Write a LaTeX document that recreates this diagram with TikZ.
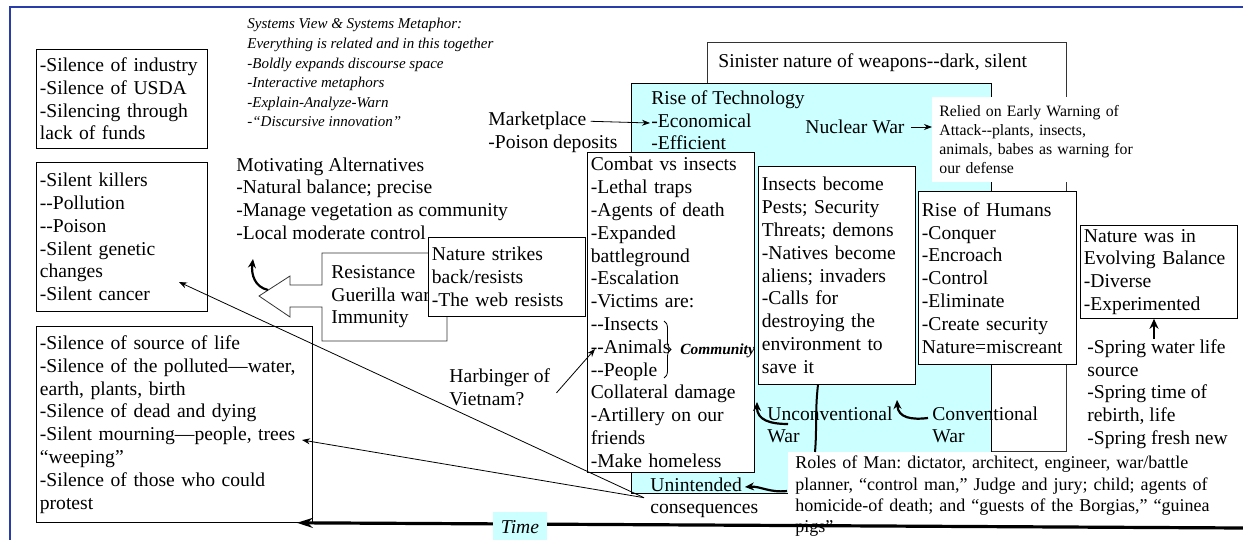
\documentclass[tikz,border=0pt]{standalone}
\usepackage{fontspec}
\setmainfont{Liberation Serif}[Ligatures=TeXOff]
\usetikzlibrary{arrows.meta,decorations.pathreplacing}
\definecolor{techcyan}{RGB}{204,255,255}
\definecolor{frameblue}{RGB}{40,60,170}
\hyphenpenalty=10000
\exhyphenpenalty=10000
\frenchspacing

\tikzset{
  box/.style={draw, fill=white, anchor=north west, align=left, inner xsep=1.75pt, inner ysep=0pt},
  txt/.style={anchor=north west, align=left, inner sep=0pt},
  thinarrow/.style={-{Stealth[length=4pt,width=3pt]}, line width=0.4pt},
  curvearrow/.style={-{Stealth[length=4.5pt,width=4pt]}, line width=1.1pt},
  timearrow/.style={-{Stealth[length=8pt,width=5pt]}, line width=1.6pt},
}

\begin{document}
\begin{tikzpicture}[x=0.5pt, y=-0.5pt, font=\fontsize{9.8}{11.4}\selectfont]
  \useasboundingbox (0,0) rectangle (1243,540);
  % frame
  \draw[frameblue, line width=1pt] (10,540) -- (10,7) -- (1243,7);

  % left column of silences
  \node[box, text width=82pt, minimum height=49.5pt] (industry) at (36,49)
    {-Silence of industry\\-Silence of USDA\\-Silencing through\\lack of funds};
  \node[box, text width=82pt, minimum height=74.5pt] (killers) at (36,162)
    {-Silent killers\\--Pollution\\--Poison\\-Silent genetic\\changes\\-Silent cancer};
  \node[box, text width=134.5pt, minimum height=98pt] (silence) at (36,326)
    {-Silence of source of life\\-Silence of the polluted—water,\\earth, plants, birth\\-Silence of dead and dying\\-Silent mourning—people, trees\\“weeping”\\-Silence of those who could\\protest};

  \node[txt, font=\fontsize{7.5}{9.8}\selectfont\itshape] (systems) at (247,18)
    {Systems View \& Systems Metaphor:\\Everything is related and in this together\\-Boldly expands discourse space\\-Interactive metaphors\\-Explain-Analyze-Warn\\-“Discursive innovation”};
  \node[txt] (motiv) at (236,157)
    {Motivating Alternatives\\-Natural balance; precise\\-Manage vegetation as community\\-Local moderate control};

  % resistance callout
  \draw[draw=black!80, fill=white] (447,253) -- (322,253) -- (322,285) -- (290,285) -- (290,276) -- (259,296)
    -- (290,317) -- (290,307) -- (322,307) -- (322,341) -- (447,341) -- cycle;
  \node[txt] (resist) at (331,265) {Resistance\\Guerilla war\\Immunity};
  \coordinate (resfoot) at (268,290);
  \coordinate (motivtip) at (253,259);
  \draw[curvearrow] (resfoot) .. controls (255,287) and (251,275) .. (motivtip);

  \node[box, text width=75pt, minimum height=39.5pt] (strikes) at (428,237)
    {Nature strikes\\back/resists\\-The web resists};

  \node[txt] (market) at (488,112) {Marketplace};
  \node[txt] (poison) at (488,135) {-Poison deposits};

  % technology, weapons
  \node[draw=black!80, fill=white, anchor=north west, minimum width=179.5pt, minimum height=204.5pt] (sinister) at (707,42) {};
  \node[txt] (sintxt) at (718,53) {Sinister nature of weapons--dark, silent};
  \node[draw, fill=techcyan, anchor=north west, minimum width=180pt, minimum height=205pt] (tech) at (631,83) {};
  \node[txt] (techtxt) at (651,90) {Rise of Technology\\-Economical\\-Efficient};
  \coordinate (econ) at (650,123);
  \draw[thinarrow] ([xshift=2pt]market.east) -- (econ);

  \node[inner sep=0pt, anchor=west] (nuclear) at (805,127) {Nuclear War};
  \node[fill=white, anchor=north west, align=left, text width=100pt, minimum height=42.5pt,
    inner xsep=3.5pt, inner ysep=0pt, font=\fontsize{7.9}{9.5}\selectfont] (relied) at (932,97)
    {Relied on Early Warning of\\Attack--plants, insects,\\animals, babes as warning for\\our defense};
  \draw[thinarrow] ([xshift=3pt]nuclear.east) -- (nuclear.east -| relied.west);

  \node[box, text width=80pt, minimum height=160pt] (combat) at (587,152)
    {Combat vs insects\\-Lethal traps\\-Agents of death\\-Expanded\\battleground\\-Escalation\\-Victims are:\\--Insects\\--Animals\\--People\\Collateral damage\\-Artillery on our\\friends\\-Make homeless};
  \draw[decorate, decoration={brace, amplitude=3.5pt}] (664,321) -- (664,378);
  \node[inner sep=0pt, anchor=west, font=\fontsize{7.7}{9}\selectfont\bfseries\itshape] (community) at (680,351) {Community};

  \node[txt] (harb) at (449,368) {Harbinger of\\Vietnam?};
  \coordinate (animals) at (595,349);
  \draw[thinarrow] ([xshift=3pt,yshift=-3pt]harb.east) -- (animals);

  \node[box, text width=75pt, minimum height=109pt] (insects) at (758,166)
    {Insects become\\Pests; Security\\Threats; demons\\-Natives become\\aliens; invaders\\-Calls for\\destroying the\\environment to\\save it};
  \node[box, text width=75.5pt, minimum height=86.5pt] (humans) at (918,191)
    {Rise of Humans\\-Conquer\\-Encroach\\-Control\\-Eliminate\\-Create security\\Nature=miscreant};
  \node[box, text width=75pt, minimum height=46.5pt] (balance) at (1080,225)
    {Nature was in\\Evolving Balance\\-Diverse\\-Experimented};
  \node[txt] (spring) at (1087,339)
    {-Spring water life\\source\\-Spring time of\\rebirth, life\\-Spring fresh new};
  \draw[-{Stealth[length=5pt,width=4.5pt]}, line width=1.4pt] (spring.north -| 1154,0) -- (balance.south -| 1154,0);

  \node[txt] (uncon) at (767,406) {Unconventional\\War};
  \node[txt] (conv) at (932,406) {Conventional\\War};
  \coordinate (unconfoot) at (788,424);
  \coordinate (combattip) at (757,402);
  \draw[curvearrow] (unconfoot) .. controls (770,424) and (757,420) .. (combattip);
  \coordinate (convfoot) at (928,418);
  \coordinate (uncontip) at (897,400);
  \draw[curvearrow] (convfoot) .. controls (912,420) and (898,418) .. (uncontip);

  \node[fill=white, anchor=north west, align=left, text width=220.5pt, minimum height=44pt,
    inner xsep=3.5pt, inner ysep=0pt, font=\fontsize{9}{10.7}\selectfont] (roles) at (788,452)
    {Roles of Man: dictator, architect, engineer, war/battle\\planner, “control man,” Judge and jury; child; agents of\\homicide-of death; and “guests of the Borgias,” “guinea\\pigs”};
  \draw[line width=1pt] (insects.south -| 818,0) .. controls (815,410) and (817,430) .. (roles.north -| 815,0);

  \node[txt] (unint) at (650,477) {Unintended\\consequences};
  \coordinate (rolesfoot) at (787,491);
  \coordinate (uninttip) at (745,487);
  \draw[curvearrow] (rolesfoot) .. controls (770,493) and (760,486) .. (uninttip);

  \coordinate (killtip) at (179,282);
  \coordinate (mourntip) at (302,440);
  \draw[thinarrow] ([xshift=-3pt]unint.west) -- (killtip);
  \draw[thinarrow] ([xshift=-3pt]unint.west) -- (mourntip);

  % time line
  \coordinate (timeend) at (1243,528);
  \draw[timearrow] (timeend) -- ([xshift=-8pt]silence.south east);
  \node[fill=techcyan, minimum width=27pt, minimum height=15pt, inner sep=0pt] (time) at (520,527) {\itshape Time};
\end{tikzpicture}
\end{document}
